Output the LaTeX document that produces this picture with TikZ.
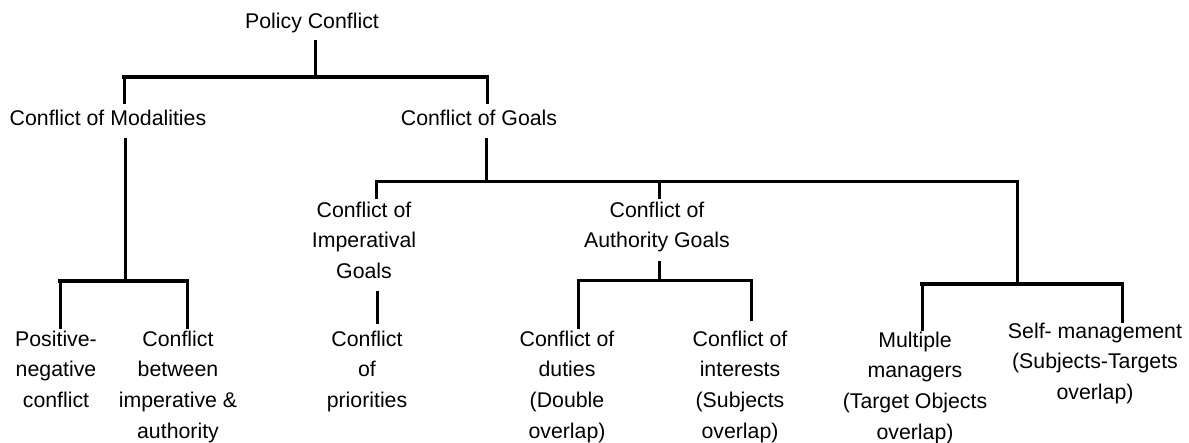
\documentclass[tikz,border=0pt]{standalone}
\usepackage{fontspec}
\setmainfont{Liberation Sans}
\begin{document}
\begin{tikzpicture}[x=1pt,y=-1pt,
  lbl/.style={anchor=north,inner sep=0pt,align=center,text=black,
    font=\fontsize{21.3}{30.7}\selectfont},
  conn/.style={line width=3pt,line cap=rect,draw=black},
  bar/.style={line width=4.4pt,line cap=rect,draw=black}]
\fill[white] (0,0) rectangle (1189,443);
\useasboundingbox (0,0) rectangle (1189,443);
% labels (top = first baseline - 21.5)
\node[lbl] (pc) at (312,6.5) {\strut Policy Conflict};
\node[lbl] (mod) at (108,103.5) {\strut Conflict of Modalities};
\node[lbl] (goals) at (479,103.5) {\strut Conflict of Goals};
\node[lbl] (imp) at (364,195.5) {\strut Conflict of\\Imperatival\\Goals};
\node[lbl] (auth) at (657,195.5) {\strut Conflict of\\Authority Goals};
\node[lbl] (posneg) at (56,324.5) {\strut Positive-\\negative\\conflict};
\node[lbl] (betw) at (178,324.5) {\strut Conflict\\between\\imperative \&\\authority};
\node[lbl] (prio) at (367,324.5) {\strut Conflict\\of\\priorities};
\node[lbl] (duties) at (567,324.5) {\strut Conflict of\\duties\\(Double\\overlap)};
\node[lbl] (inter) at (740,324.5) {\strut Conflict of\\interests\\(Subjects\\overlap)};
\node[lbl] (mult) at (915,325.5) {\strut Multiple\\managers\\(Target Objects\\overlap)};
\node[lbl] (self) at (1095,316.5) {\strut Self- management\\(Subjects-Targets\\overlap)};
% connector end points
\coordinate (pcS) at (315,42);
\coordinate (pcJ) at (315,77);
\coordinate (modT) at (124,103);
\coordinate (goalsT) at (487,103);
\coordinate (modS) at (125,140);
\coordinate (modJ) at (125,281);
\coordinate (posnegT) at (60,328);
\coordinate (betwT) at (187,328);
\coordinate (goalsS) at (486,140);
\coordinate (goalsJ) at (486,182);
\coordinate (impT) at (376,198);
\coordinate (authT) at (659,198);
\coordinate (multJ) at (1017,284);
\coordinate (impS) at (377,293);
\coordinate (prioT) at (377,323);
\coordinate (authS) at (659,263);
\coordinate (authJ) at (659,281);
\coordinate (dutiesT) at (578,328);
\coordinate (interT) at (751,320);
\coordinate (multT) at (922,330);
\coordinate (selfT) at (1122,322);
% Policy Conflict
\draw[conn] (pcS) -- (pcJ);
\draw[bar] (modT |- pcJ) -- (goalsT |- pcJ);
\draw[conn] (modT |- pcJ) -- (modT);
\draw[conn] (goalsT |- pcJ) -- (goalsT);
% Modalities
\draw[conn] (modS) -- (modJ);
\draw[bar] (posnegT |- modJ) -- (betwT |- modJ);
\draw[conn] (posnegT |- modJ) -- (posnegT);
\draw[conn] (betwT |- modJ) -- (betwT);
% Goals
\draw[conn] (goalsS) -- (goalsJ);
\draw[conn] (impT |- goalsJ) -- (multJ |- goalsJ);
\draw[conn] (impT |- goalsJ) -- (impT);
\draw[conn] (authT |- goalsJ) -- (authT);
\draw[conn] (multJ |- goalsJ) -- (multJ);
% Imperatival
\draw[conn] (impS) -- (prioT);
% Authority
\draw[conn] (authS) -- (authJ);
\draw[conn] (dutiesT |- authJ) -- (interT |- authJ);
\draw[conn] (dutiesT |- authJ) -- (dutiesT);
\draw[conn] (interT |- authJ) -- (interT);
% Multiple / Self
\draw[bar] (multT |- multJ) -- (selfT |- multJ);
\draw[conn] (multT |- multJ) -- (multT);
\draw[conn] (selfT |- multJ) -- (selfT);
\end{tikzpicture}
\end{document}
